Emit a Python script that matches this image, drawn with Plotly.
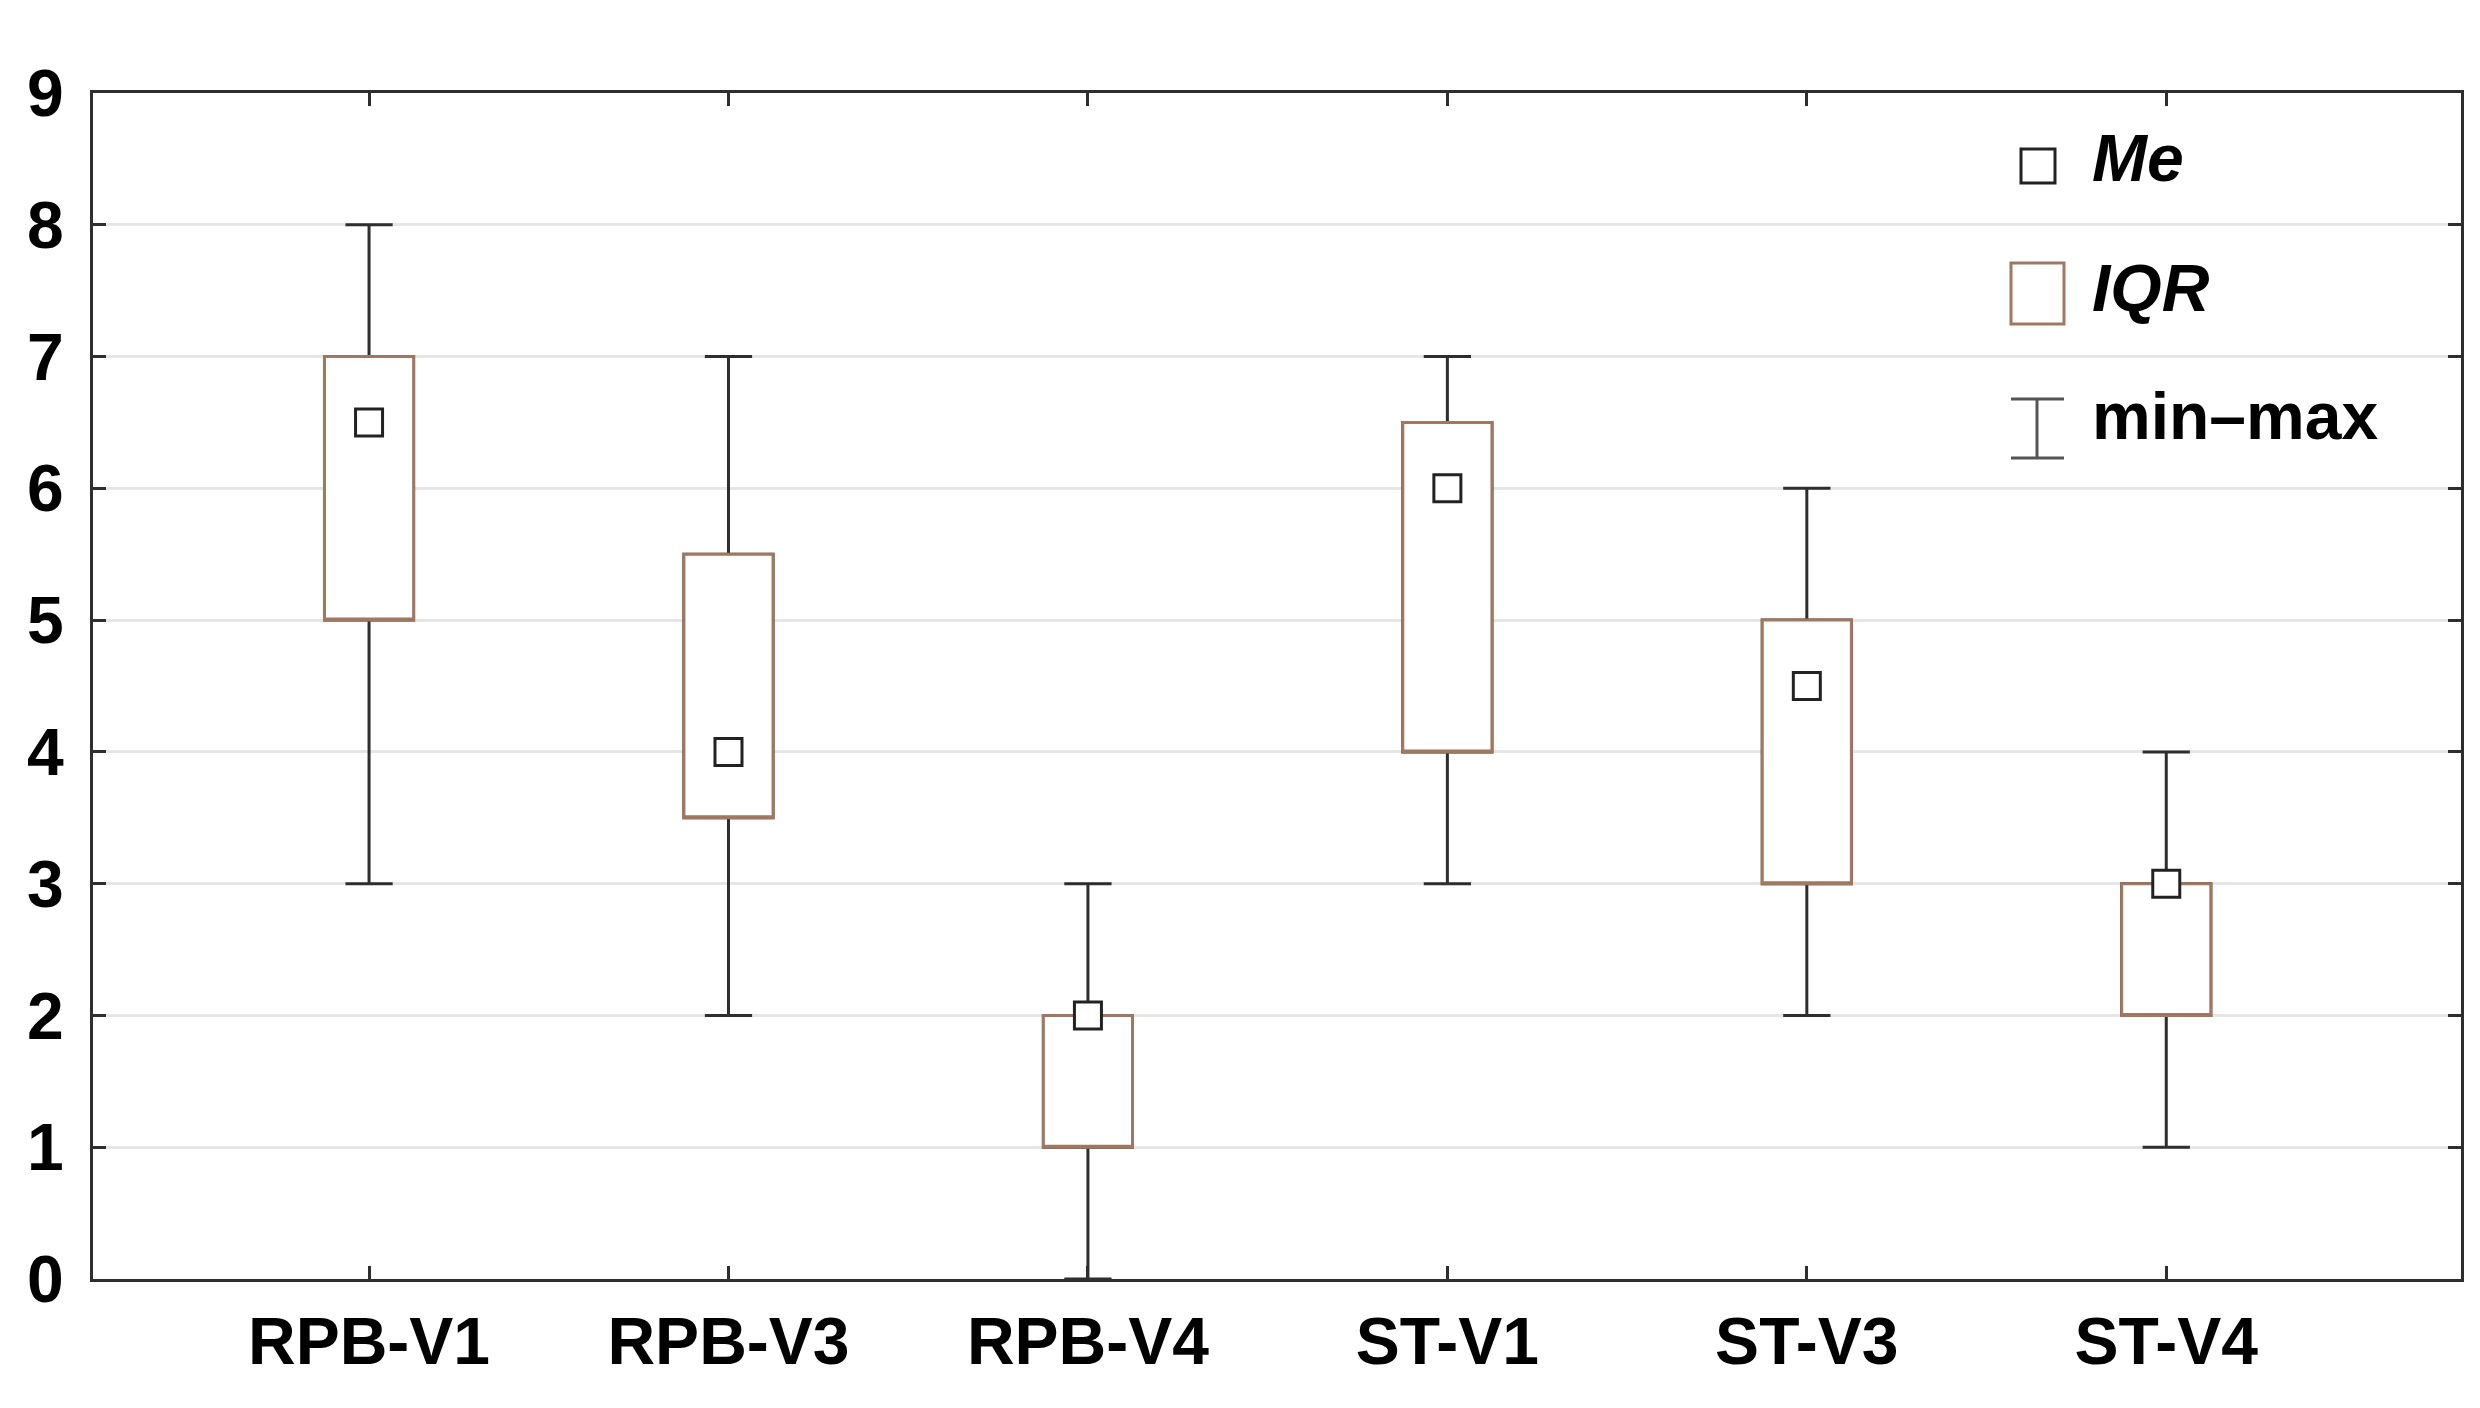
import plotly.graph_objects as go

categories = ["RPB-V1", "RPB-V3", "RPB-V4", "ST-V1", "ST-V3", "ST-V4"]
mins    = [3, 2, 0, 3, 2, 1]
q1s     = [5, 3.5, 1, 4, 3, 2]
medians = [6.5, 4, 2, 6, 4.5, 3]
q3s     = [7, 5.5, 2, 6.5, 5, 3]
maxs    = [8, 7, 3, 7, 6, 4]
y_ticks = [0, 1, 2, 3, 4, 5, 6, 7, 8, 9]
legend_labels = ["<b><i>Me</i></b>", "<b><i>IQR</i></b>", "<b>min\u2013max</b>"]

W, H = 2480, 1408
L, R, T, B = 85, 27, 85, 137
PW, PH = W - L - R, H - T - B

BROWN = "#a07862"
DARK = "#2e2e2e"
FONT = "Liberation Sans, Arial, sans-serif"


def px(x):
    return (x - L) / PW


def py(y):
    return (H - B - y) / PH


fig = go.Figure()

# whiskers (min-max), dark
fig.add_trace(go.Box(
    x=categories, q1=q1s, median=q1s, q3=q3s,
    lowerfence=mins, upperfence=maxs,
    width=0.248, whiskerwidth=0.53,
    line=dict(color=DARK, width=3), fillcolor="white",
    boxpoints=False, showlegend=False, hoverinfo="skip",
))
# IQR boxes, brown
fig.add_trace(go.Box(
    x=categories, q1=q1s, median=q1s, q3=q3s,
    lowerfence=q1s, upperfence=q3s,
    width=0.248, whiskerwidth=0,
    line=dict(color=BROWN, width=3), fillcolor="white",
    boxpoints=False, showlegend=False, hoverinfo="skip",
))
# medians
fig.add_trace(go.Scatter(
    x=categories, y=medians, mode="markers",
    marker=dict(symbol="square", size=27, color="white",
                line=dict(color="#222222", width=3)),
    showlegend=False, hoverinfo="skip",
))

shapes = []
# legend: Me
shapes.append(dict(type="rect", xref="paper", yref="paper",
                   x0=px(2013), x1=px(2047), y0=py(175), y1=py(141),
                   line=dict(color="#222222", width=3), fillcolor="white"))
# legend: IQR
shapes.append(dict(type="rect", xref="paper", yref="paper",
                   x0=px(2003), x1=px(2056), y0=py(316), y1=py(255),
                   line=dict(color=BROWN, width=3), fillcolor="white"))
# legend: min-max
shapes.append(dict(type="line", xref="paper", yref="paper",
                   x0=px(2029), x1=px(2029), y0=py(450), y1=py(391),
                   line=dict(color="#555555", width=3)))
shapes.append(dict(type="line", xref="paper", yref="paper",
                   x0=px(2003), x1=px(2056), y0=py(391), y1=py(391),
                   line=dict(color="#555555", width=3)))
shapes.append(dict(type="line", xref="paper", yref="paper",
                   x0=px(2003), x1=px(2056), y0=py(450), y1=py(450),
                   line=dict(color="#555555", width=3)))

ann = []
for lab, yc in zip(legend_labels, [150, 280, 408]):
    ann.append(dict(xref="paper", yref="paper", x=px(2082), y=py(yc),
                    xanchor="left", yanchor="middle", text=lab,
                    showarrow=False,
                    font=dict(family=FONT, size=66, color="black")))

fig.update_layout(
    template="none",
    width=W, height=H,
    margin=dict(l=L, r=R, t=T, b=B, pad=0, autoexpand=False),
    paper_bgcolor="white", plot_bgcolor="white",
    boxmode="overlay", showlegend=False,
    shapes=shapes, annotations=ann,
    font=dict(family=FONT, color="black"),
)
fig.update_xaxes(
    type="category", range=[-0.768, 5.82], automargin=False,
    showgrid=False, zeroline=False,
    showline=True, linecolor=DARK, linewidth=3, mirror="allticks",
    ticks="inside", ticklen=13, tickwidth=3, tickcolor=DARK,
    tickfont=dict(family=FONT, size=66, color="black", weight="bold"),
    ticklabelstandoff=3,
)
fig.update_yaxes(
    range=[0, 9], tickvals=y_ticks, automargin=False,
    showgrid=True, gridcolor="#e6e6e6", gridwidth=3, zeroline=False,
    showline=True, linecolor=DARK, linewidth=3, mirror="allticks",
    ticks="inside", ticklen=13, tickwidth=3, tickcolor=DARK,
    tickfont=dict(family=FONT, size=66, color="black", weight="bold"),
    ticklabelstandoff=13,
)

fig.write_html("out.html")
